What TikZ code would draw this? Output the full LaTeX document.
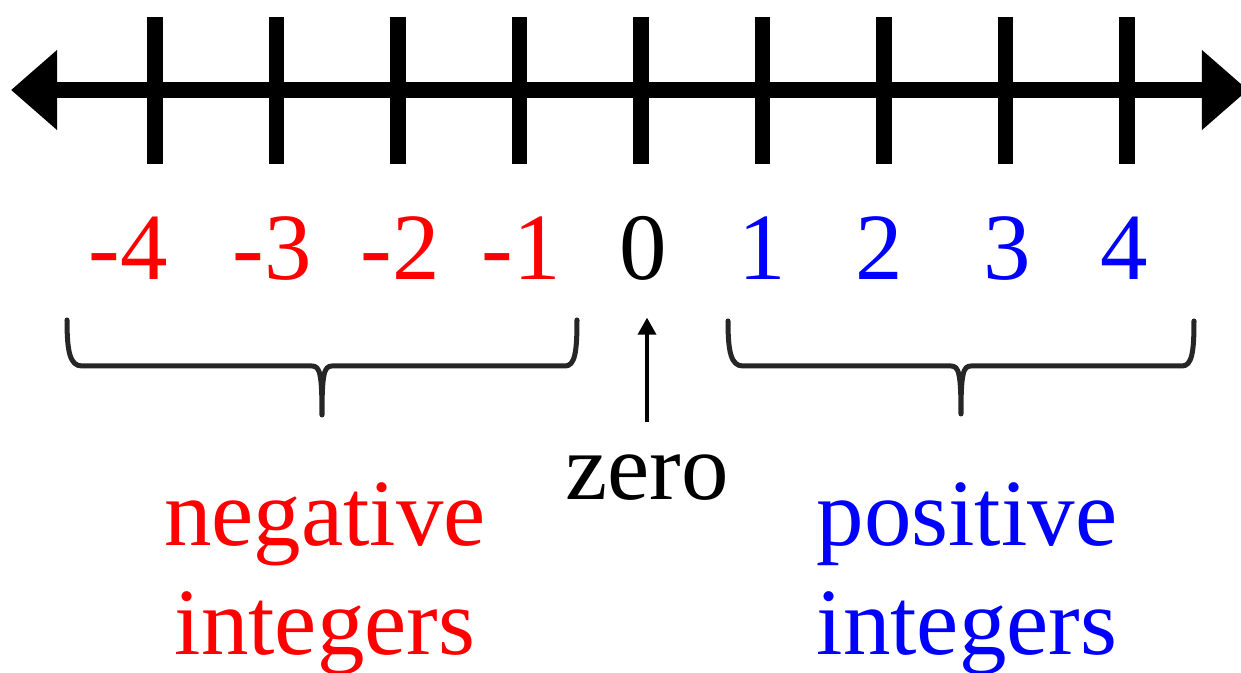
\documentclass[tikz,border=0pt]{standalone}
\usepackage{fontspec}
\setmainfont{Liberation Serif}
\usepackage{xcolor}
\usetikzlibrary{arrows.meta,positioning,calc}

\begin{document}
\begin{tikzpicture}[x=0.01cm, y=-0.01cm,
  numline/.style={line width=0.16cm, {Triangle[length=0.46cm,width=0.77cm]}-{Triangle[length=0.46cm,width=0.77cm]}},
  tickmark/.style={line width=0.15cm},
  num/.style={anchor=base, inner sep=0pt, font=\fontsize{27pt}{31pt}\selectfont},
  word/.style={num, align=center},
  brace/.style={line width=0.05cm, draw=black!85, line join=round, line cap=round},
  arr/.style={-{Triangle[length=0.17cm,width=0.18cm]}, line width=0.035cm}
]
\useasboundingbox (0,0) rectangle (1241,673);
\coordinate (lend) at (11,90);
\coordinate (rend) at (1248,90);
\draw[numline] (lend) -- (rend);
\foreach \k in {0,...,8}
  \draw[tickmark] (155+121.5*\k,17) -- (155+121.5*\k,164);

\foreach \v/\lx/\col in {-4/128/red, -3/272/red, -2/400/red, -1/521/red, 0/643/black, 1/762/blue, 2/879/blue, 3/1007/blue, 4/1124/blue}
  \node[num, text=\col] (n\v) at (\lx,280) {\v};

\draw[brace] (67,320) .. controls (67,352) and (70,366) .. (82,366) -- (312,366)
  .. controls (320,366) and (322,374) .. (322,415)
  .. controls (322,374) and (324,366) .. (332,366) -- (565,366)
  .. controls (575,366) and (577,352) .. (577,320);
\draw[brace] (728,321) .. controls (728,352) and (731,366) .. (743,366) -- (951,366)
  .. controls (959,366) and (961,374) .. (961,414)
  .. controls (961,374) and (963,366) .. (971,366) -- (1182,366)
  .. controls (1192,366) and (1194,352) .. (1194,321);

\node[num] (zero) at (647,500) {zero};
\node[word, text=red] (neg) at (325,655) {negative\\integers};
\node[word, text=blue] (pos) at (967,655) {positive\\integers};
\draw[arr, shorten <=0.33cm, shorten >=0.36cm] (zero.north) -- (zero.north |- n0.south);
\end{tikzpicture}
\end{document}
